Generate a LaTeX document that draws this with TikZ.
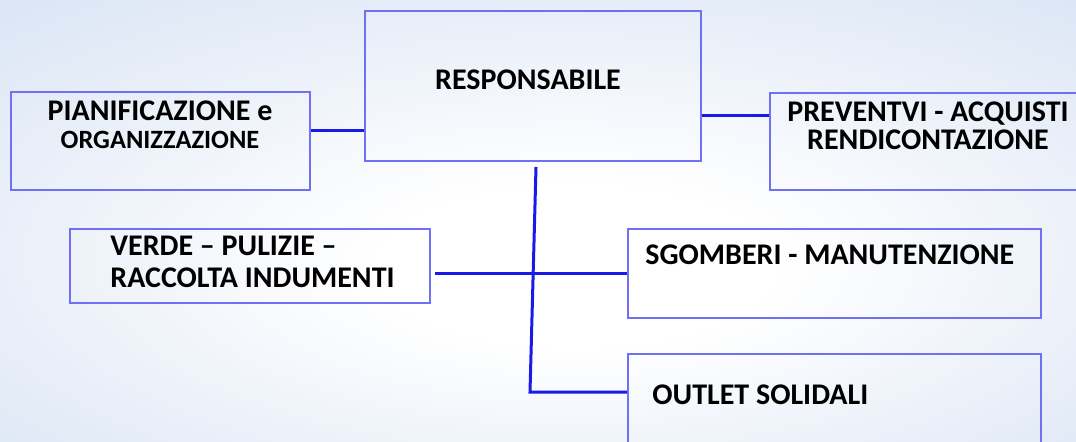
\documentclass[tikz,border=0pt]{standalone}
\usepackage{fontspec}
\setmainfont{Carlito}
\usetikzlibrary{positioning}

\definecolor{bgblue}{RGB}{190,208,236}
\definecolor{bgmid}{RGB}{216,227,244}
\definecolor{boxline}{RGB}{112,112,246}
\definecolor{linkblue}{RGB}{26,26,232}
\pgfdeclareradialshading{bgshade}{\pgfpoint{2bp}{-6bp}}{color(0bp)=(white); color(9bp)=(white); color(40bp)=(bgmid); color(72bp)=(bgblue)}

\begin{document}
\begin{tikzpicture}[x=0.5pt, y=-0.5pt,
    box/.style={draw=boxline, line width=1pt, rectangle, inner sep=0pt, anchor=north west},
    lbl/.style={font=\bfseries\fontsize{15}{14}\selectfont, align=center, inner sep=0pt},
    link/.style={draw=linkblue, line width=1.5pt}]
  % Background
  \clip (0,0) rectangle (1076,441);
  \shade[shading=bgshade] (0,0) rectangle (1076,441);

  % Boxes
  \node[box, minimum width=168pt, minimum height=75pt] (resp) at (364,10) {};
  \node[box, minimum width=149.5pt, minimum height=49pt] (plan) at (10,91) {};
  \node[box, minimum width=160pt, minimum height=48.5pt] (prev) at (769,92) {};
  \node[box, minimum width=180pt, minimum height=37pt] (verde) at (69,228) {};
  \node[box, minimum width=206.5pt, minimum height=44.5pt] (sgom) at (627,228) {};
  \node[box, minimum width=206.5pt, minimum height=50pt] (outlet) at (627,353) {};

  % Labels
  \node[lbl] (resp-t) at (528,80) {RESPONSABILE};
  \node[lbl] (plan-t) at (160,125) {PIANIFICAZIONE e\\{\fontsize{13.2}{14}\selectfont ORGANIZZAZIONE}};
  \node[lbl] (prev-t) at (928,126) {PREVENTVI - ACQUISTI\\RENDICONTAZIONE};
  \node[lbl, align=left, anchor=west] (verde-t) at (110,262) {VERDE -- PULIZIE --\\[2pt]RACCOLTA INDUMENTI};
  \node[lbl, anchor=west] (sgom-t) at (645,255) {SGOMBERI - MANUTENZIONE};
  \node[lbl, anchor=west] (outlet-t) at (652,395) {OUTLET SOLIDALI};

  % Connectors
  \draw[link] ([yshift=5.5pt]plan.east) -- ([yshift=5.5pt]plan.east -| resp.west);
  \draw[link] ([yshift=13.25pt]prev.west -| resp.east) -- ([yshift=13.25pt]prev.west);
  \draw[link] ([xshift=1.5pt,yshift=-2.5pt]resp.south)
    -- ([xshift=-1.5pt,yshift=6pt]resp.south |- outlet.west)
    -- ([yshift=6pt]outlet.west);
  \draw[link] ([xshift=2pt]verde.east |- sgom.west) -- (sgom.west);
\end{tikzpicture}
\end{document}
